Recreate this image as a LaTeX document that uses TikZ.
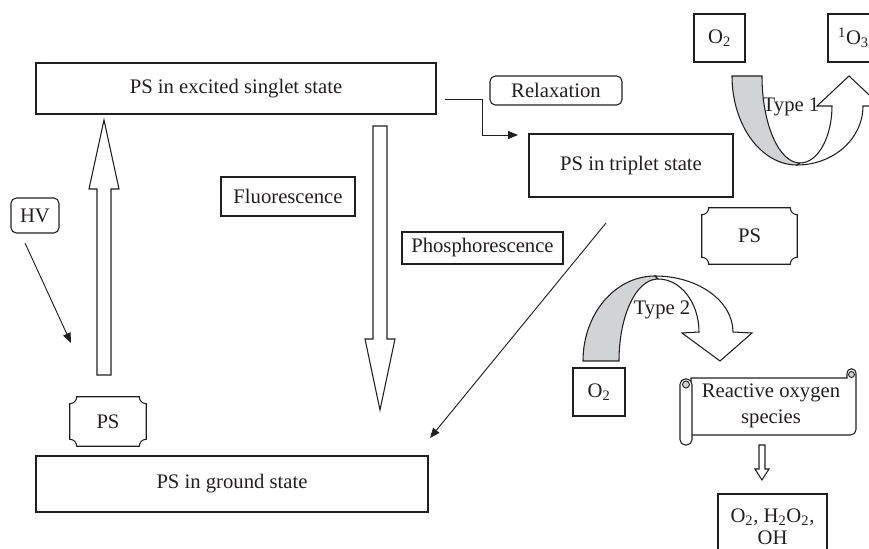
\documentclass[tikz,border=0pt]{standalone}
\usepackage{fontspec}
\setmainfont{Liberation Serif}
\usetikzlibrary{arrows.meta,calc}
\definecolor{ink}{HTML}{231F20}
\definecolor{band}{HTML}{D1D3D4}
\newcommand\plaqueoutline[1]{%
\draw[draw=ink,line width=0.8pt]
 ($(#1.north west)+(7,0)$) -- ($(#1.north east)+(-7,0)$)
 .. controls +(0,3.9) and +(-3.9,0) .. ($(#1.north east)+(0,7)$)
 -- ($(#1.south east)+(0,-7)$)
 .. controls +(-3.9,0) and +(0,-3.9) .. ($(#1.south east)+(-7,0)$)
 -- ($(#1.south west)+(7,0)$)
 .. controls +(0,-3.9) and +(3.9,0) .. ($(#1.south west)+(0,-7)$)
 -- ($(#1.north west)+(0,7)$)
 .. controls +(3.9,0) and +(0,3.9) .. ($(#1.north west)+(7,0)$) -- cycle;}
\begin{document}
\begin{tikzpicture}[x=0.75pt,y=-0.75pt,
  font=\fontsize{15.5}{18.5}\selectfont,
  every node/.style={text=ink},
  box/.style={draw=ink,line width=0.8pt,inner sep=0pt,align=center,fill=white},
  rbox/.style={box,rounded corners=4pt},
  plain/.style={inner sep=0pt,align=center},
  thinarrow/.style={draw=ink,line width=0.7pt,-{Triangle[length=7.5pt,width=6pt]}},
  block/.style={draw=ink,line width=0.8pt,fill=white,line join=miter},
  bandfill/.style={draw=ink,line width=0.8pt,fill=band}]
\useasboundingbox (0,0) rectangle (869,549);

% block arrows
\draw[block] (97,375) -- (97,189) -- (89,189) -- (104,120) -- (119,189) -- (111,189) -- (111,375) -- cycle;
\draw[block] (373,126) -- (387,126) -- (387,339) -- (395,339) -- (380,410) -- (365,339) -- (373,339) -- cycle;
\draw[block] (759,445) -- (765,445) -- (765,469) -- (769,469) -- (762,480) -- (755,469) -- (759,469) -- cycle;

% Type 1 curved arrow
\draw[bandfill] (732,76) -- (762,76) .. controls (762,124) and (779,163) .. (800,163)
  -- (797,165) .. controls (761,165) and (732,125) .. (732,76) -- cycle;
\draw[block] (797,165) .. controls (833,165) and (863,139) .. (863,106)
  -- (881,106) -- (849,76) -- (817,106) -- (832,106)
  .. controls (832,137) and (818,163) .. (800,163) -- cycle;

% Type 2 curved arrow
\draw[bandfill] (583,361) .. controls (583,314) and (615,276) .. (655,276)
  -- (658,279) .. controls (636,279) and (619,316) .. (619,361) -- cycle;
\draw[block] (655,276) .. controls (698,276) and (733,301) .. (733,332)
  -- (752,333) -- (720,361) -- (682,333) -- (699,332)
  .. controls (699,303) and (681,279) .. (658,279) -- cycle;

% scroll
\draw[block] (691,378) -- (847,378) -- (847,374) .. controls (847,367) and (856,367) .. (856,374)
  [rounded corners=4pt] -- (856,435) [sharp corners] -- (691,435) -- cycle;
\filldraw[draw=ink,fill=band,line width=0.7pt] (851.5,374.5) circle[radius=3];
\draw[block,rounded corners=4pt] (680,379) rectangle (692,445);
\filldraw[draw=ink,fill=band,line width=0.7pt] (686,384.5) circle[radius=3.5];

% nodes
\node[box,minimum width=300pt,minimum height=38.25pt] (singlet) at (236,88.5) {PS in excited singlet state};
\node[box,minimum width=294pt,minimum height=42pt] (ground) at (232,484) {PS in ground state};
\node[box,minimum width=153pt,minimum height=47.25pt] (triplet) at (631,165.5) {PS in triplet state};
\node[rbox,minimum width=99pt,minimum height=21.75pt] (relax) at (556,90.5) {Relaxation};
\node[box,minimum width=100.5pt,minimum height=29.25pt] (fluor) at (288,196.5) {Fluorescence};
\node[box,minimum width=120.75pt,minimum height=24pt] (phos) at (482.5,248) {Phosphorescence};
\node[rbox,minimum width=36pt,minimum height=26.25pt] (hv) at (35,215.5) {HV};
\node[plain,minimum width=57pt,minimum height=36.75pt] (psL) at (108,421.5) {PS};
\plaqueoutline{psL}
\node[plain,minimum width=71.25pt,minimum height=42pt] (psR) at (749.5,236) {PS};
\plaqueoutline{psR}
\node[box,minimum width=38.25pt,minimum height=36pt] (o2top) at (719.5,38) {O\textsubscript{2}};
\node[box,minimum width=38.25pt,minimum height=36pt] (o3) at (853.5,38) {\textsuperscript{1}O\textsubscript{3}};
\node[box,minimum width=39pt,minimum height=36pt] (o2bot) at (599,392) {O\textsubscript{2}};
\node[plain,font=\fontsize{15.5}{20}\selectfont] (ros) at (771,406) {Reactive oxygen\\species};
\node[box,minimum width=81.75pt,minimum height=49.5pt,font=\fontsize{15.5}{16.5}\selectfont] (final) at (772.5,527) {O\textsubscript{2}, H\textsubscript{2}O\textsubscript{2},\\OH};
\node[plain] (t1) at (791,107) {Type 1};
\node[plain] (t2) at (662,310) {Type 2};

% thin connectors
\coordinate (hvs) at (25,243);
\coordinate (hve) at (71,343);
\draw[thinarrow] (hvs) -- (hve);
\coordinate (phs) at (606,223);
\coordinate (phe) at (430,438);
\draw[thinarrow] (phs) -- (phe);
\coordinate (rs) at (445,99);
\coordinate (re) at (518,135);
\draw[thinarrow] (rs) -- (482,99) -- (482,135) -- (re);
\end{tikzpicture}
\end{document}
